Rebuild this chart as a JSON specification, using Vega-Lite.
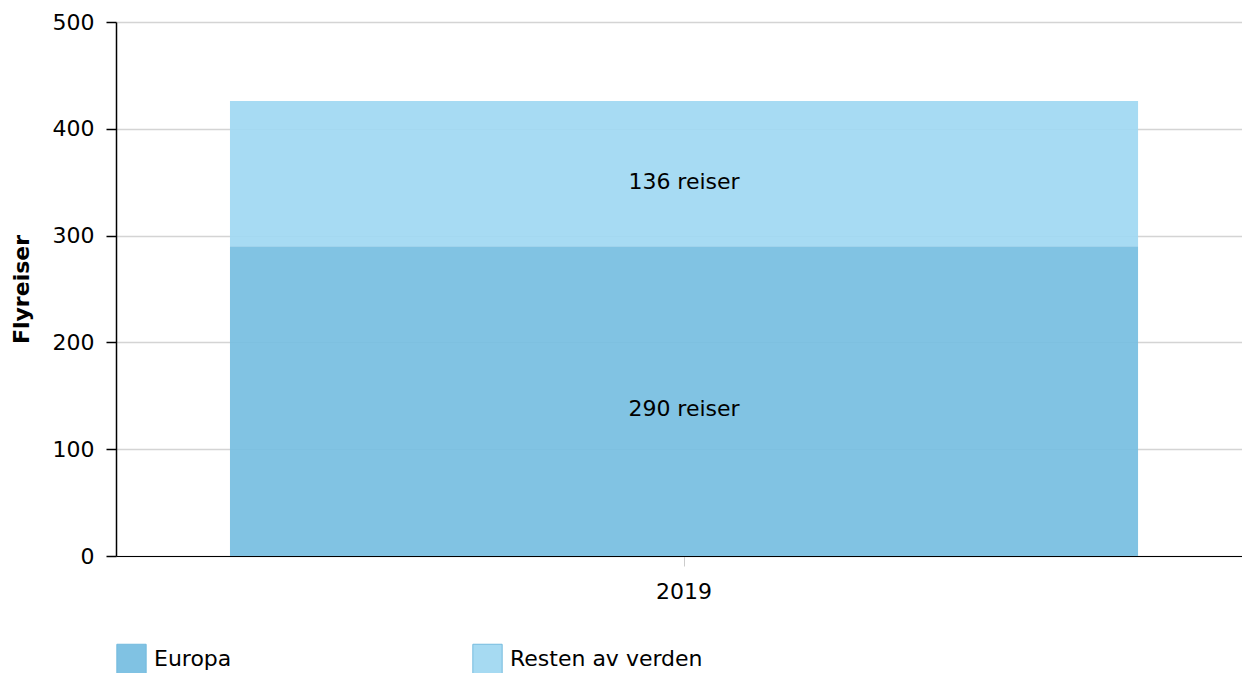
{
  "$schema": "https://vega.github.io/schema/vega-lite/v6.json",
  "width": 1126,
  "height": 534,
  "autosize": {"type": "none"},
  "padding": {"left": 116, "top": 22, "right": 0, "bottom": 117},
  "background": "white",
  "config": {
    "font": "DejaVu Sans",
    "view": {"stroke": null}
  },
  "data": {
    "values": [
      {"year": "2019", "region": "Europa", "value": 290, "label": "290 reiser"},
      {"year": "2019", "region": "Resten av verden", "value": 136, "label": "136 reiser"}
    ]
  },
  "encoding": {
    "x": {
      "field": "year",
      "type": "nominal",
      "scale": {"paddingInner": 0, "paddingOuter": 0.12, "align": 0.523},
      "axis": {
        "title": null,
        "labelAngle": 0,
        "labelFont": "DejaVu Sans",
        "labelFontSize": 22,
        "labelColor": "#000000",
        "labelPadding": 15,
        "domainColor": "#000000",
        "domainWidth": 1,
        "tickColor": "#cccccc",
        "tickSize": 10,
        "grid": false
      }
    }
  },
  "layer": [
    {
      "mark": {"type": "bar", "opacity": 0.93},
      "encoding": {
        "y": {
          "field": "value",
          "type": "quantitative",
          "stack": "zero",
          "scale": {"domain": [0, 500], "nice": false},
          "axis": {
            "title": "Flyreiser",
            "titleFont": "DejaVu Sans",
            "titleFontSize": 22,
            "titleFontWeight": "bold",
            "titleColor": "#000000",
            "titlePadding": 19,
            "values": [0, 100, 200, 300, 400, 500],
            "labelFont": "DejaVu Sans",
            "labelFontSize": 22,
            "labelColor": "#000000",
            "labelPadding": 12,
            "domainColor": "#000000",
            "domainWidth": 1.5,
            "tickColor": "#000000",
            "tickSize": 10,
            "tickWidth": 1.5,
            "grid": true,
            "gridColor": "#d4d4d4",
            "gridWidth": 1.3
          }
        },
        "color": {
          "field": "region",
          "type": "nominal",
          "scale": {"domain": ["Europa", "Resten av verden"], "range": ["#77BEE1", "#A0D8F2"]},
          "legend": {
            "title": null,
            "orient": "none",
            "legendX": 0,
            "legendY": 621,
            "direction": "horizontal",
            "columns": 2,
            "gridAlign": "all",
            "columnPadding": 123,
            "symbolType": "square",
            "symbolSize": 860,
            "symbolStrokeWidth": 1,
            "symbolStrokeColor": "#6ab6dc",
            "symbolOpacity": 0.93,
            "labelFont": "DejaVu Sans",
            "labelFontSize": 22,
            "labelColor": "#000000",
            "labelOffset": 7,
            "labelLimit": 400
          }
        },
        "order": {"field": "region", "sort": "ascending"}
      }
    },
    {
      "transform": [
        {"stack": "value", "groupby": ["year"], "sort": [{"field": "region", "order": "ascending"}], "as": ["v0", "v1"]},
        {"calculate": "(datum.v0 + datum.v1) / 2", "as": "mid"}
      ],
      "mark": {"type": "text", "font": "DejaVu Sans", "fontSize": 22, "color": "#000000", "dy": 8, "baseline": "middle"},
      "encoding": {
        "y": {"field": "mid", "type": "quantitative"},
        "text": {"field": "label"}
      }
    }
  ]
}
